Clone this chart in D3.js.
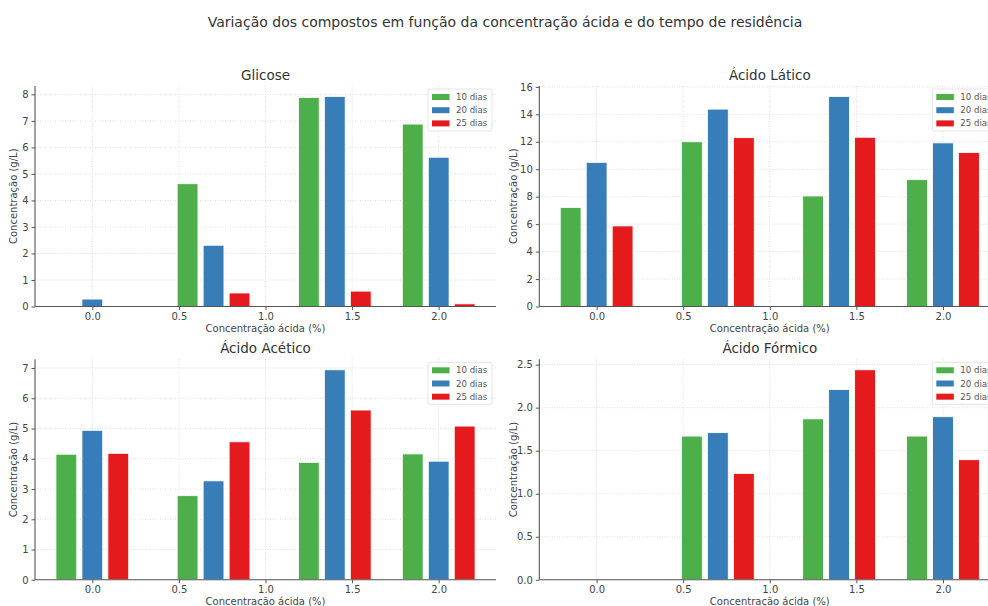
<!DOCTYPE html>
<html>
<head>
    <title>Variação dos compostos</title>
    <script src="https://d3js.org/d3.v7.min.js"></script>
    <style>
        body { margin: 0; background: #fff; }
        svg { font-family: "DejaVu Sans", sans-serif; }
    </style>
</head>
<body>
    <div id="chart"></div>
    <script>
        // concentração ácida usada em cada grupo de barras
        var concentracoes = [0.0, 0.7, 1.4, 2.0];
        var series = ["10 dias", "20 dias", "25 dias"];
        var deslocamentos = [-0.15, 0, 0.15];
        var cores = ["#4daf4a", "#377eb8", "#e41a1c"];
        var xTicks = [0.0, 0.5, 1.0, 1.5, 2.0];

        // valores (g/L)
        var glicose10 = [0, 4.63, 7.88, 6.88];
        var glicose20 = [0.28, 2.31, 7.92, 5.63];
        var glicose25 = [0, 0.51, 0.58, 0.1];

        var latico10 = [7.22, 12.0, 8.05, 9.24];
        var latico20 = [10.5, 14.38, 15.3, 11.92];
        var latico25 = [5.87, 12.3, 12.33, 11.22];

        var acetico10 = [4.15, 2.78, 3.88, 4.16];
        var acetico20 = [4.94, 3.27, 6.94, 3.92];
        var acetico25 = [4.18, 4.56, 5.61, 5.08];

        var formico10 = [0, 1.67, 1.87, 1.67];
        var formico20 = [0, 1.71, 2.21, 1.895];
        var formico25 = [0, 1.236, 2.44, 1.395];

        var glicoseTicks = [0, 1, 2, 3, 4, 5, 6, 7, 8];
        var laticoTicks = [0, 2, 4, 6, 8, 10, 12, 14, 16];
        var aceticoTicks = [0, 1, 2, 3, 4, 5, 6, 7];
        var formicoTicks = [0, 0.5, 1.0, 1.5, 2.0, 2.5];

        var svgWidth = 988;
        var svgHeight = 606;
        var barWidth = 0.12;
        var axW = 461;
        var axH = 220.5;

        var paineis = [
            { titulo: "Glicose", dados: [glicose10, glicose20, glicose25], ticks: glicoseTicks, fmt: d3.format("d"), left: 35, top: 86 },
            { titulo: "Ácido Lático", dados: [latico10, latico20, latico25], ticks: laticoTicks, fmt: d3.format("d"), left: 539.3, top: 86 },
            { titulo: "Ácido Acético", dados: [acetico10, acetico20, acetico25], ticks: aceticoTicks, fmt: d3.format("d"), left: 35, top: 359.3 },
            { titulo: "Ácido Fórmico", dados: [formico10, formico20, formico25], ticks: formicoTicks, fmt: d3.format(".1f"), left: 539.3, top: 359.3 }
        ];

        var svg = d3.select("#chart")
            .append("svg")
            .attr("width", svgWidth)
            .attr("height", svgHeight);

        svg.append("text")
            .attr("x", 505)
            .attr("y", 27)
            .attr("text-anchor", "middle")
            .attr("font-size", 14)
            .attr("fill", "#333")
            .text("Variação dos compostos em função da concentração ácida e do tempo de residência");

        // limites do eixo x com margem de 5% como no matplotlib
        var xMin = d3.min(concentracoes) + deslocamentos[0] - barWidth / 2;
        var xMax = d3.max(concentracoes) + deslocamentos[2] + barWidth / 2;
        var margem = (xMax - xMin) * 0.05;

        paineis.forEach(function(p) {
            var g = svg.append("g")
                .attr("transform", "translate(" + p.left + "," + p.top + ")");

            var x = d3.scaleLinear()
                .domain([xMin - margem, xMax + margem])
                .range([0, axW]);

            var yMaxDado = d3.max(p.dados, function(s) { return d3.max(s); });
            var y = d3.scaleLinear()
                .domain([0, yMaxDado * 1.05])
                .range([axH, 0]);

            // grade pontilhada
            g.selectAll(".gx")
                .data(xTicks)
                .enter()
                .append("line")
                .attr("x1", function(d) { return x(d); })
                .attr("x2", function(d) { return x(d); })
                .attr("y1", 0)
                .attr("y2", axH)
                .attr("stroke", "#d8d8d8")
                .attr("stroke-width", 0.8)
                .attr("stroke-dasharray", "1,1.5");

            g.selectAll(".gy")
                .data(p.ticks)
                .enter()
                .append("line")
                .attr("x1", 0)
                .attr("x2", axW)
                .attr("y1", function(d) { return y(d); })
                .attr("y2", function(d) { return y(d); })
                .attr("stroke", "#d8d8d8")
                .attr("stroke-width", 0.8)
                .attr("stroke-dasharray", "1,1.5");

            // barras
            p.dados.forEach(function(valores, si) {
                g.selectAll(".bar" + si)
                    .data(valores)
                    .enter()
                    .append("rect")
                    .attr("x", function(d, i) { return x(concentracoes[i] + deslocamentos[si] - barWidth / 2); })
                    .attr("width", x(barWidth) - x(0))
                    .attr("y", function(d) { return y(d); })
                    .attr("height", function(d) { return axH - y(d); })
                    .attr("fill", cores[si])
                    .attr("stroke", "#fff")
                    .attr("stroke-width", 0.8);
            });

            // eixos
            var xAxis = d3.axisBottom(x)
                .tickValues(xTicks)
                .tickFormat(d3.format(".1f"))
                .tickSize(3.5)
                .tickPadding(3);

            var yAxis = d3.axisLeft(y)
                .tickValues(p.ticks)
                .tickFormat(p.fmt)
                .tickSize(3.5)
                .tickPadding(3);

            var gx = g.append("g")
                .attr("transform", "translate(0," + axH + ")")
                .call(xAxis);

            var gy = g.append("g").call(yAxis);

            [gx, gy].forEach(function(a) {
                a.select(".domain").attr("stroke", "#555").attr("stroke-width", 1.1);
                a.selectAll(".tick line").attr("stroke", "#555");
                a.selectAll(".tick text")
                    .attr("fill", "#444")
                    .attr("font-size", 10)
                    .attr("font-family", "DejaVu Sans");
            });
            gx.select(".domain").attr("d", "M0,0H" + axW);
            gy.select(".domain").attr("d", "M0," + axH + "V0");

            // títulos
            g.append("text")
                .attr("x", axW / 2)
                .attr("y", -6)
                .attr("text-anchor", "middle")
                .attr("font-size", 13.5)
                .attr("fill", "#333")
                .text(p.titulo);

            g.append("text")
                .attr("x", axW / 2)
                .attr("y", axH + 25)
                .attr("text-anchor", "middle")
                .attr("font-size", 10)
                .attr("fill", "#444")
                .text("Concentração ácida (%)");

            g.append("text")
                .attr("transform", "translate(" + (-p.left + (p.left < 100 ? 17 : 517)) + "," + (axH / 2) + ") rotate(-90)")
                .attr("text-anchor", "middle")
                .attr("font-size", 10)
                .attr("fill", "#444")
                .text("Concentração (g/L)");

            // legenda
            var leg = g.append("g")
                .attr("transform", "translate(" + (axW - 68) + ",3)");

            leg.append("rect")
                .attr("width", 64)
                .attr("height", 42)
                .attr("rx", 2)
                .attr("fill", "#fff")
                .attr("fill-opacity", 0.85)
                .attr("stroke", "#ddd")
                .attr("stroke-width", 0.8);

            var item = leg.selectAll(".item")
                .data(series)
                .enter()
                .append("g")
                .attr("transform", function(d, i) { return "translate(0," + (8 + i * 13.2) + ")"; });

            item.append("rect")
                .attr("x", 4)
                .attr("y", -3)
                .attr("width", 17.5)
                .attr("height", 6)
                .attr("fill", function(d, i) { return cores[i]; });

            item.append("text")
                .attr("x", 28)
                .attr("dy", "0.35em")
                .attr("font-size", 8.6)
                .attr("fill", "#555")
                .text(function(d) { return d; });
        });
    </script>
</body>
</html>
